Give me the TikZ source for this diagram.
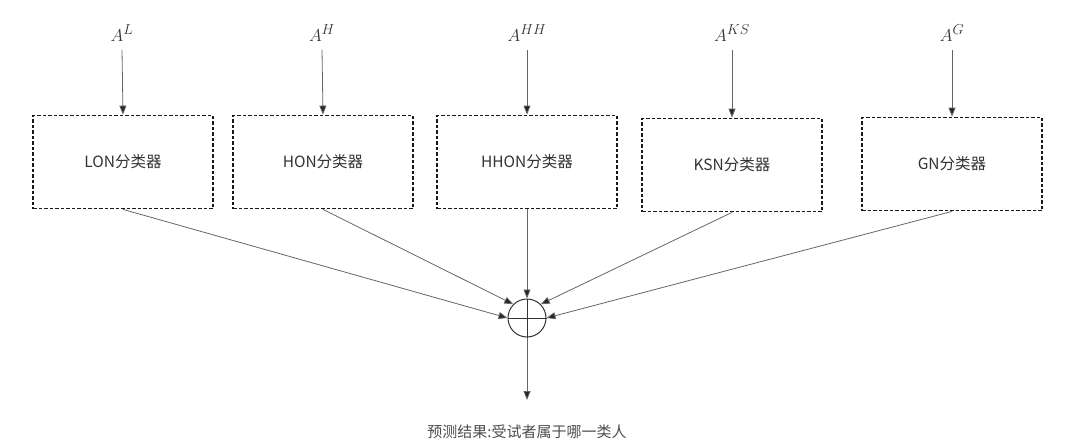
\documentclass[tikz,border=0pt]{standalone}
\usepackage{fontspec}
\setmainfont{Noto Sans CJK SC}
\usetikzlibrary{arrows.meta}
\begin{document}
\begin{tikzpicture}[x=1pt,y=-1pt,
  cls/.style={draw=black!90,line width=1.8pt,dash pattern=on 3.5pt off 2pt,minimum width=180pt,minimum height=93pt,inner sep=0pt,font=\fontsize{15.5}{18}\selectfont,text=black!80},
  lbl/.style={font=\fontsize{19}{20}\selectfont,text=black!80},
  arr/.style={draw=black!60,line width=0.8pt,-{Triangle[length=9pt,width=7pt,fill=black!85]}}]
\useasboundingbox (0,0) rectangle (1080,447);
\node[cls] (b1) at (123,162) {LON分类器};
\node[cls] (b2) at (323,162) {HON分类器};
\node[cls] (b3) at (527,162) {HHON分类器};
\node[cls] (b4) at (732,165) {KSN分类器};
\node[cls] (b5) at (952,164) {GN分类器};
\node[lbl] (a1) at (122,33) {$A^{L}$};
\node[lbl] (a2) at (322,33) {$A^{H}$};
\node[lbl] (a3) at (527,33) {$A^{HH}$};
\node[lbl] (a4) at (732,33) {$A^{KS}$};
\node[lbl] (a5) at (952,33) {$A^{G}$};
\foreach \i in {1,...,5} \draw[arr] (a\i.south) ++(0,5) -- (b\i.north);
\node[draw=black!80,line width=1pt,circle,minimum size=38pt,inner sep=0pt] (s) at (527,318) {};
\draw[black!80,line width=1pt] (s.north) -- (s.south) (s.west) -- (s.east);
\draw[arr] (b1.south) -- (s.west);
\draw[arr] (b2.south) -- (s.north west);
\draw[arr] (b3.south) -- (s.north);
\draw[arr] (b4.south) -- (s.north east);
\draw[arr] (b5.south) -- (s.east);
\coordinate (o) at (527,400);
\draw[arr] (s.south) -- (o);
\node[font=\fontsize{15}{18}\selectfont,text=black!70] (t) at (527,432) {预测结果:受试者属于哪一类人};
\end{tikzpicture}
\end{document}
